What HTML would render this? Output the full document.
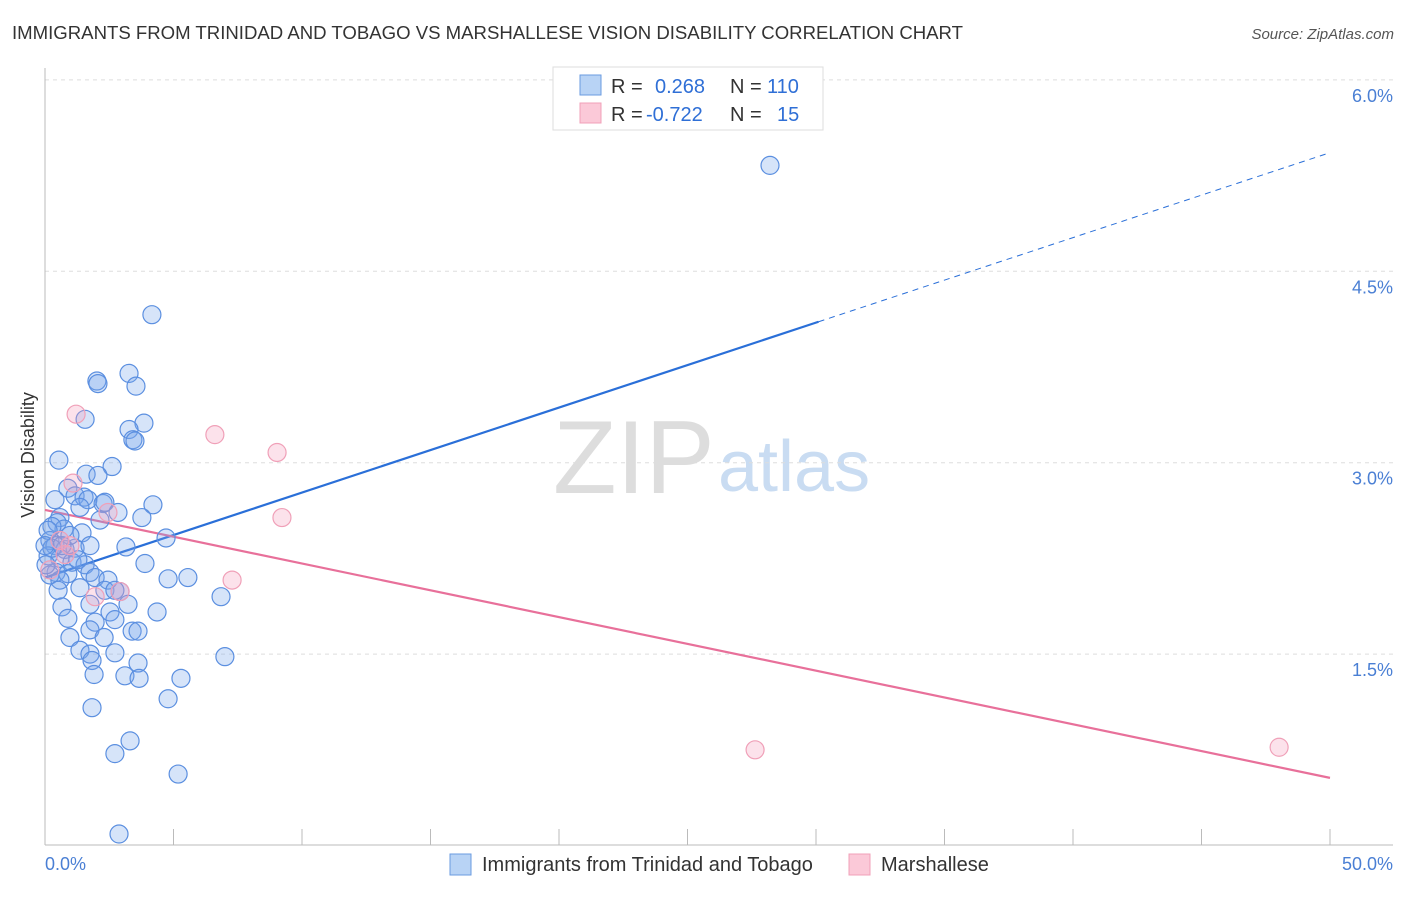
<!DOCTYPE html>
<html><head><meta charset="utf-8"><style>
body{margin:0;background:#fff;font-family:"Liberation Sans",sans-serif;}
svg text{font-family:"Liberation Sans",sans-serif;}
</style></head><body>
<svg id="chart" width="1406" height="892">
<text x="12" y="39" font-size="18.6" fill="#333" textLength="951">IMMIGRANTS FROM TRINIDAD AND TOBAGO VS MARSHALLESE VISION DISABILITY CORRELATION CHART</text>
<text x="1394" y="39" font-size="15" fill="#555" font-style="italic" text-anchor="end">Source: ZipAtlas.com</text>
<g>
<text x="553" y="493" font-size="104" fill="#ddd" font-family="Liberation Serif, serif">ZIP</text>
<text x="718" y="491" font-size="72" fill="#c9dcf2">atlas</text>
</g>
<g id="grid"></g><g id="axes"></g><g id="lines"></g><g id="pts"></g>
<text transform="translate(34,455) rotate(-90)" font-size="18" fill="#333" text-anchor="middle">Vision Disability</text>
<g>
<rect x="553" y="67" width="270" height="63" fill="#fff" stroke="#ddd"/>
<rect x="580" y="75" width="21" height="20" fill="#b8d3f5" stroke="#6a9be0"/>
<rect x="580" y="103" width="21" height="20" fill="#fbc9d8" stroke="#f0a0b8"/>
<g font-size="20" fill="#333">
<text x="611" y="93">R =</text><text x="655" y="93" fill="#2f6fd6">0.268</text><text x="730" y="93">N =</text><text x="767" y="93" fill="#2f6fd6">110</text>
<text x="611" y="121">R =</text><text x="646" y="121" fill="#2f6fd6">-0.722</text><text x="730" y="121">N =</text><text x="777" y="121" fill="#2f6fd6">15</text>
</g>
</g>
<g>
<rect x="450" y="854" width="21" height="21" fill="#b8d3f5" stroke="#6a9be0"/>
<text x="482" y="871" font-size="20" fill="#333">Immigrants from Trinidad and Tobago</text>
<rect x="849" y="854" width="21" height="21" fill="#fbc9d8" stroke="#f0a0b8"/>
<text x="881" y="871" font-size="20" fill="#333">Marshallese</text>
</g>
</svg>
<script>
const yTicks=[1.5,3.0,4.5,6.0];
const yTickLabels=["1.5%","3.0%","4.5%","6.0%"];
const xTickLabels=["0.0%","50.0%"];
const blueX=[4.16,2.02,2.06,3.27,3.54,1.56,3.85,3.27,3.42,3.50,0.54,2.61,1.60,2.06,0.89,1.17,1.52,1.67,2.26,2.33,4.20,1.36,2.84,3.77,0.58,0.47,0.74,0.27,1.44,3.15,4.71,0.19,0.39,0.78,1.17,1.75,0.12,0.58,1.05,1.56,3.89,0.43,0.89,1.75,1.95,2.45,0.19,4.79,5.56,1.36,2.33,2.92,2.72,0.66,1.75,3.23,4.36,6.85,2.53,0.89,1.95,2.72,3.39,3.62,1.75,0.97,2.30,1.36,1.75,2.72,1.83,3.62,1.91,3.11,3.66,5.29,7.00,4.79,1.83,3.31,2.72,5.18,2.88,28.21,0.39,0.12,0.27,0.04,0.58,0.97,2.14,0.66,1.28,0.51,0.0];
const blueY=[4.16,3.64,3.62,3.70,3.60,3.34,3.31,3.26,3.18,3.17,3.02,2.97,2.91,2.90,2.80,2.74,2.73,2.71,2.68,2.69,2.67,2.65,2.61,2.57,2.57,2.53,2.48,2.50,2.45,2.34,2.41,2.39,2.35,2.32,2.33,2.35,2.27,2.25,2.22,2.20,2.21,2.14,2.13,2.14,2.10,2.08,2.12,2.09,2.10,2.02,2.00,1.99,2.00,1.87,1.89,1.89,1.83,1.95,1.83,1.78,1.75,1.77,1.68,1.68,1.69,1.63,1.63,1.53,1.50,1.51,1.45,1.43,1.34,1.33,1.31,1.31,1.48,1.15,1.08,0.82,0.72,0.56,0.09,5.33,2.71,2.47,2.33,2.20,2.08,2.43,2.55,2.35,2.24,2.00,2.35];
const pinkX=[1.21,1.09,2.45,6.61,9.03,9.22,7.28,2.92,1.95,0.97,0.58,0.19,27.63,48.02,0.78];
const pinkY=[3.38,2.84,2.61,3.22,3.08,2.57,2.08,1.99,1.95,2.35,2.39,2.16,0.75,0.77,2.28];
const blueTrend=[2.10,5.43];
const blueSolidEnd=30.1;
const pinkTrend=[2.63,0.53];

const NS="http://www.w3.org/2000/svg";
const X0=45,X1=1330,Y0=845.5;
const sx=v=>X0+(X1-X0)*v/50;
const sy=v=>Y0-v*127.6;
function mk(tag,attrs,parent){const e=document.createElementNS(NS,tag);for(const k in attrs)e.setAttribute(k,attrs[k]);document.getElementById(parent).appendChild(e);return e;}
yTicks.forEach((t,i)=>{
 const g=mk('line',{x1:45,x2:1393,y1:sy(t),y2:sy(t),stroke:'#ddd','stroke-dasharray':'4,4'},'grid');
 
 
 const l=mk('text',{x:1393,y:sy(t)+22,'font-size':18,fill:'#4a7fd4','text-anchor':'end'},'grid');
 l.textContent=yTickLabels[i];
 
 
});
const ax=mk('line',{x1:45,x2:1393,y1:845,y2:845,stroke:'#bbb'},'axes');


const ay=mk('line',{x1:45,x2:45,y1:68,y2:845,stroke:'#bbb'},'axes');


for(let i=0;i<=10;i++){
 const t=mk('line',{x1:sx(i*5),x2:sx(i*5),y1:829,y2:845,stroke:'#bbb'},'axes');
 
 
}
[[0,'start',45],[50,'end',1393]].forEach((d,i)=>{
 const l=mk('text',{x:d[2],y:870,'font-size':18,fill:'#4a7fd4','text-anchor':d[1]},'axes');
 l.textContent=xTickLabels[i];
 
 
});
const bl=v=>blueTrend[0]+(blueTrend[1]-blueTrend[0])*v/50;
const pl=v=>pinkTrend[0]+(pinkTrend[1]-pinkTrend[0])*v/50;
blueX.forEach((x,i)=>{
 const c=mk('circle',{cx:sx(x),cy:sy(blueY[i]),r:9,fill:'rgba(120,165,235,0.3)',stroke:'#5b8fe0','stroke-width':1.2},'pts');
 
 
});
pinkX.forEach((x,i)=>{
 const c=mk('circle',{cx:sx(x),cy:sy(pinkY[i]),r:9,fill:'rgba(245,160,190,0.3)',stroke:'#f0a0b8','stroke-width':1.2},'pts');
 
 
});
const b1=mk('line',{x1:sx(0),y1:sy(bl(0)),x2:sx(blueSolidEnd),y2:sy(bl(blueSolidEnd)),stroke:'#2a6fd8','stroke-width':2.2},'lines');


const b2=mk('line',{x1:sx(blueSolidEnd),y1:sy(bl(blueSolidEnd)),x2:sx(50),y2:sy(bl(50)),stroke:'#2a6fd8','stroke-width':1,'stroke-dasharray':'6,5'},'lines');


const p1=mk('line',{x1:sx(0),y1:sy(pl(0)),x2:sx(50),y2:sy(pl(50)),stroke:'#e8709a','stroke-width':2.2},'lines');


</script>
</body></html>
